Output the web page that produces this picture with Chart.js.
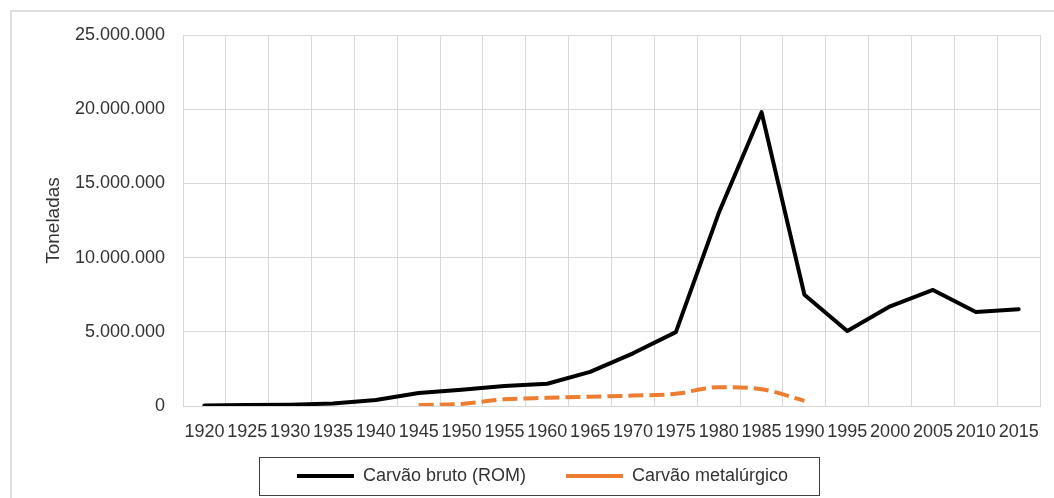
<!DOCTYPE html>
<html>
<head>
<meta charset="utf-8">
<script src="https://cdn.jsdelivr.net/npm/chart.js@4.4.1/dist/chart.umd.min.js"></script>
<style>
html,body{margin:0;padding:0;background:#fff;}
#wrap{position:relative;width:1054px;height:498px;overflow:hidden;background:#fff;}
#frame{position:absolute;left:10px;top:10px;width:1100px;height:600px;border:2px solid #dedede;box-sizing:border-box;}
#c{position:absolute;left:0;top:0;}
</style>
</head>
<body>
<div id="wrap"><div id="frame"></div><canvas id="c" width="1054" height="498"></canvas></div>
<script>
const years = ['1920','1925','1930','1935','1940','1945','1950','1955','1960','1965','1970','1975','1980','1985','1990','1995','2000','2005','2010','2015'];
const carvaoBruto = [30000, 60000, 90000, 170000, 400000, 880000, 1100000, 1350000, 1500000, 2300000, 3550000, 4980000, 13000000, 19800000, 7500000, 5050000, 6720000, 7820000, 6330000, 6520000];
const carvaoMetalurgico = [null, null, null, null, null, 70000, 140000, 450000, 550000, 630000, 700000, 820000, 1270000, 1130000, 350000, null, null, null, null, null];
const seriesNames = ['Carvão bruto (ROM)', 'Carvão metalúrgico'];
const yTicks = [0, 5000000, 10000000, 15000000, 20000000, 25000000];
const yTitle = 'Toneladas';

const FONT = "'Liberation Sans', Arial, sans-serif";
const TXT = '#333333';
const GRID = '#d9d9d9';

function fmt(v){ return String(Math.round(v)).replace(/\B(?=(\d{3})+(?!\d))/g, '.'); }

const legendShift = {
  id: 'legendShift',
  afterLayout(chart){
    const lg = chart.legend;
    if (!lg) return;
    lg.top -= 16;
    lg.bottom -= 16;
  }
};

const legendBox = {
  id: 'legendBox',
  afterDraw(chart){
    const hb = chart.legend && chart.legend.legendHitBoxes;
    if (!hb || !hb.length) return;
    const first = hb[0], last = hb[hb.length-1];
    const ctx = chart.ctx;
    const left = first.left - 38;
    const right = last.left + last.width + 31;
    const cy = first.top + 9;
    ctx.save();
    ctx.strokeStyle = '#404040';
    ctx.lineWidth = 1;
    ctx.setLineDash([]);
    ctx.strokeRect(Math.round(left)+0.5, Math.round(cy-19)+0.5, Math.round(right-left), 38);
    ctx.restore();
  }
};

new Chart(document.getElementById('c'), {
  type: 'line',
  data: {
    labels: years,
    datasets: [
      {
        label: seriesNames[0],
        data: carvaoBruto,
        borderColor: '#000000',
        backgroundColor: '#000000',
        borderWidth: 4,
        pointRadius: 0,
        pointHoverRadius: 0,
        pointStyle: 'line',
        tension: 0,
        borderJoinStyle: 'round',
        borderCapStyle: 'round',
        fill: false
      },
      {
        label: seriesNames[1],
        data: carvaoMetalurgico,
        borderColor: '#ED7D31',
        backgroundColor: '#ED7D31',
        borderWidth: 4,
        borderDash: [15, 6],
        pointRadius: 0,
        pointHoverRadius: 0,
        pointStyle: 'line',
        cubicInterpolationMode: 'monotone',
        borderCapStyle: 'butt',
        fill: false
      }
    ]
  },
  options: {
    responsive: false,
    animation: false,
    devicePixelRatio: 1,
    layout: { padding: { left: 42, right: 11, top: 35, bottom: -13 } },
    plugins: {
      title: { display: false },
      tooltip: { enabled: false },
      legend: {
        display: true,
        position: 'bottom',
        align: 'center',
        labels: {
          usePointStyle: true,
          pointStyleWidth: 57,
          padding: 40,
          color: TXT,
          font: { family: FONT, size: 18 }
        }
      }
    },
    scales: {
      x: {
        type: 'category',
        offset: true,
        grid: { offset: true, color: GRID, lineWidth: 1, drawTicks: false },
        border: { color: GRID, width: 1 },
        ticks: {
          autoSkip: false, maxRotation: 0, minRotation: 0,
          padding: 15, color: TXT,
          font: { family: FONT, size: 18 }
        },
        afterFit(s){ s.height = 37; }
      },
      y: {
        min: 0, max: 25000000,
        afterBuildTicks(s){ s.ticks = yTicks.map(v => ({ value: v })); },
        grid: { color: GRID, lineWidth: 1, drawTicks: false },
        border: { display: false },
        ticks: {
          padding: 18, color: TXT,
          font: { family: FONT, size: 18 },
          callback: (v) => fmt(v)
        },
        title: {
          display: true, text: yTitle, color: TXT,
          font: { family: FONT, size: 19, weight: 'normal' },
          padding: { top: 0, bottom: 0 }
        },
        afterFit(s){ s.width = 141; }
      }
    }
  },
  plugins: [legendShift, legendBox]
});
</script>
</body>
</html>
